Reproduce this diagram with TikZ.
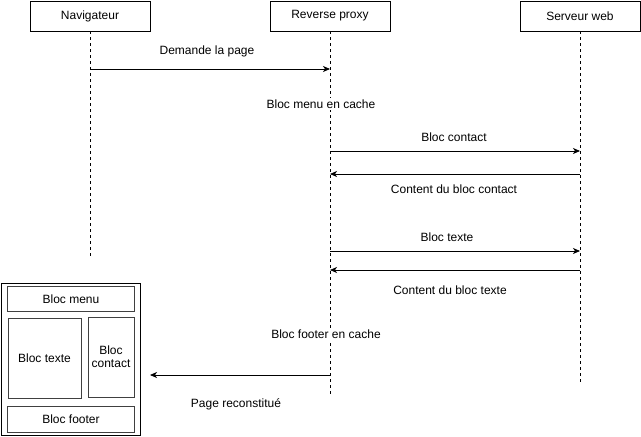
\documentclass[tikz,border=0pt]{standalone}
\usepackage{fontspec}
\setmainfont{Liberation Sans}
\usetikzlibrary{arrows.meta}
\begin{document}
\begin{tikzpicture}[x=1pt,y=-1pt,
  every node/.style={font=\fontsize{12}{14}\selectfont},
  actor/.style={draw=black,line width=0.8pt,minimum width=120pt,minimum height=30pt,inner sep=0pt},
  life/.style={draw=black,line width=0.7pt,dash pattern=on 3pt off 3pt},
  msg/.style={draw=black,line width=0.8pt,-{Stealth[length=7pt,width=6pt,inset=2pt]}},
  blk/.style={draw=black!75,line width=1pt,inner sep=0pt},
  lbl/.style={inner sep=0pt},
  lblw/.style={fill=white,inner sep=1.5pt}]
\useasboundingbox (0,0) rectangle (641,437);
% actors
\node[actor] (nav) at (90,16) {Navigateur};
\node[actor] (rp) at (330,16) {Reverse proxy};
\node[actor] (sw) at (580,16) {Serveur web};
% lifeline ends
\coordinate (navE) at (90,256);
\coordinate (rpE) at (330,394);
\coordinate (swE) at (580,385);
\draw[life] (nav.south) -- (navE);
\draw[life] (rp.south) -- (rpE);
\draw[life] (sw.south) -- (swE);
% message anchors
\coordinate (n1) at (90,69);  \coordinate (r1) at (330,69);
\coordinate (r2) at (330,151); \coordinate (s2) at (580,151);
\coordinate (s3) at (580,174); \coordinate (r3) at (330,174);
\coordinate (r4) at (330,251); \coordinate (s4) at (580,251);
\coordinate (s5) at (580,270); \coordinate (r5) at (330,270);
\coordinate (r6) at (330,375);
% page
\node[draw=black,line width=0.8pt,minimum width=139pt,minimum height=152pt,inner sep=0pt] (page) at (70.5,359) {};
\node[blk,minimum width=127pt,minimum height=25pt] (menu) at (71,299) {Bloc menu};
\node[blk,minimum width=73pt,minimum height=80pt] (texte) at (44.5,358) {Bloc texte};
\node[blk,minimum width=46pt,minimum height=80pt,align=center,font=\fontsize{12}{13}\selectfont] (contact) at (111,357) {Bloc\\contact};
\node[blk,minimum width=127pt,minimum height=26pt] (footer) at (71,419) {Bloc footer};
\coordinate (p6) at (150,375);
% messages
\draw[msg] (n1) -- (r1);
\draw[msg] (r2) -- (s2);
\draw[msg] (s3) -- (r3);
\draw[msg] (r4) -- (s4);
\draw[msg] (s5) -- (r5);
\draw[msg] (r6) -- (p6);
% labels
\node[lbl] (t1) at (207,51) {Demande la page};
\node[lblw] (t2) at (321,104) {Bloc menu en cache};
\node[lbl] (t3) at (454,137) {Bloc contact};
\node[lbl] (t4) at (454,189) {Content du bloc contact};
\node[lbl] (t5) at (447,237) {Bloc texte};
\node[lbl] (t6) at (450,290) {Content du bloc texte};
\node[lblw] (t7) at (326,334) {Bloc footer en cache};
\node[lbl] (t8) at (236,404) {Page reconstitué};
\end{tikzpicture}
\end{document}
